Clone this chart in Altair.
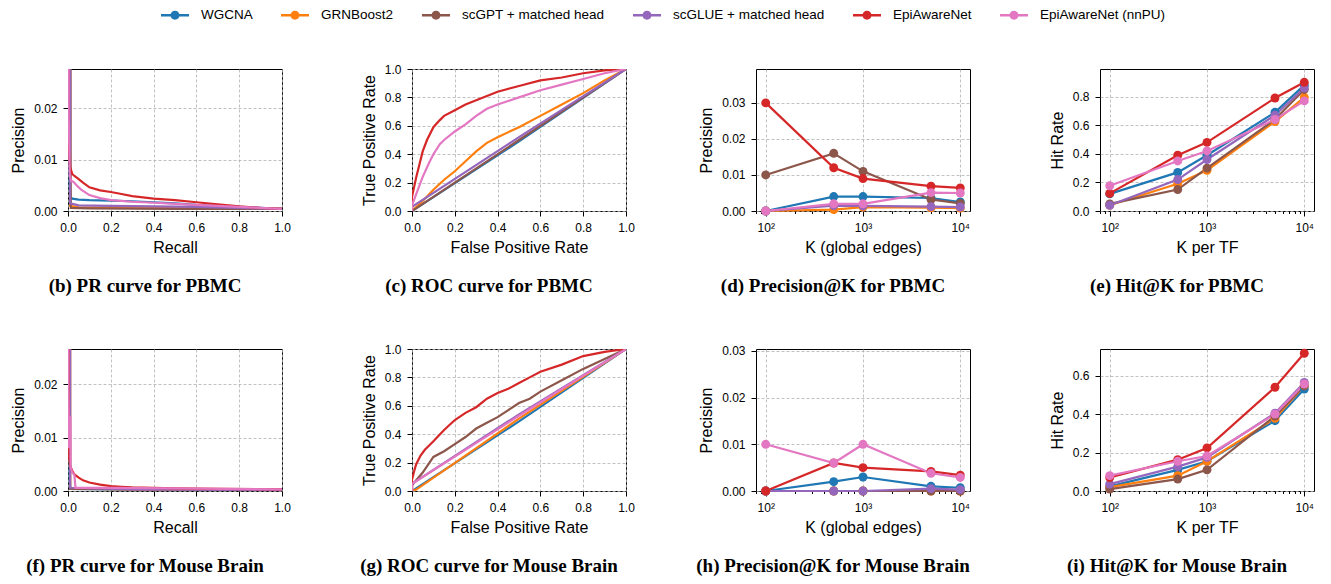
import altair as alt
import pandas as pd

SERIES = ["WGCNA", "GRNBoost2", "scGPT + matched head", "scGLUE + matched head",
          "EpiAwareNet", "EpiAwareNet (nnPU)"]
COLORS = ["#1f77b4", "#ff7f0e", "#8c564b", "#9467bd", "#d62728", "#e377c2"]
K_VALUES = [100, 500, 1000, 5000, 10000]

CAPTIONS = ["(b) PR curve for PBMC", "(c) ROC curve for PBMC",
            "(d) Precision@K for PBMC", "(e) Hit@K for PBMC",
            "(f) PR curve for Mouse Brain", "(g) ROC curve for Mouse Brain",
            "(h) Precision@K for Mouse Brain", "(i) Hit@K for Mouse Brain"]

UNIT_TICKS = [0.0, 0.2, 0.4, 0.6, 0.8, 1.0]
PREC_TICKS = [0.0, 0.01, 0.02, 0.03]
LOG_TICKS = [80, 90, 100, 200, 300, 400, 500, 600, 700, 800, 900,
             1000, 2000, 3000, 4000, 5000, 6000, 7000, 8000, 9000, 10000]

# ---- PR curve, PBMC ----
PR_PBMC_RECALL = {
    "WGCNA": [0, 0.008, 0.012, 0.02, 0.05, 0.1, 0.2, 0.3, 0.4, 0.5, 0.6, 0.7, 0.8, 0.9, 1.0],
    "GRNBoost2": [0, 0.01, 0.05, 0.3, 0.6, 1.0],
    "scGPT + matched head": [0, 0.012, 0.013, 0.1, 0.5, 1.0],
    "scGLUE + matched head": [0, 0.01, 0.05, 0.2, 0.4, 0.6, 0.8, 1.0],
    "EpiAwareNet": [0, 0.002, 0.005, 0.01, 0.02, 0.03, 0.05, 0.07, 0.1, 0.15, 0.2, 0.25,
                    0.3, 0.4, 0.5, 0.6, 0.7, 0.8, 0.9, 1.0],
    "EpiAwareNet (nnPU)": [0, 0.003, 0.008, 0.015, 0.025, 0.04, 0.06, 0.1, 0.15, 0.2, 0.3,
                           0.4, 0.5, 0.6, 0.7, 0.8, 0.9, 1.0],
}
PR_PBMC_PRECISION = {
    "WGCNA": [1.0, 0.0045, 0.0027, 0.0024, 0.0022, 0.0021, 0.0020, 0.0019, 0.0017, 0.0015,
              0.0012, 0.0010, 0.0008, 0.0006, 0.0004],
    "GRNBoost2": [1.0, 0.001, 0.0007, 0.0006, 0.0005, 0.0004],
    "scGPT + matched head": [1.0, 0.012, 0.0006, 0.0005, 0.0004, 0.0004],
    "scGLUE + matched head": [1.0, 0.0015, 0.0011, 0.001, 0.0009, 0.0008, 0.0006, 0.0004],
    "EpiAwareNet": [1.0, 0.02, 0.011, 0.0085, 0.0072, 0.0068, 0.0062, 0.0055, 0.0046, 0.0040,
                    0.0037, 0.0033, 0.0029, 0.0024, 0.0021, 0.0017, 0.0013, 0.0009, 0.0006, 0.0004],
    "EpiAwareNet (nnPU)": [1.0, 0.02, 0.007, 0.0058, 0.0057, 0.005, 0.0042, 0.0031, 0.0025,
                           0.0021, 0.0018, 0.0016, 0.0014, 0.0012, 0.0010, 0.0008, 0.0006, 0.0004],
}

# ---- PR curve, Mouse Brain ----
PR_MOUSE_RECALL = {
    "WGCNA": [0, 0.008, 0.01, 0.2, 1.0],
    "GRNBoost2": [0, 0.01, 0.3, 1.0],
    "scGPT + matched head": [0, 0.01, 0.3, 1.0],
    "scGLUE + matched head": [0, 0.01, 0.3, 1.0],
    "EpiAwareNet": [0, 0.003, 0.006, 0.01, 0.02, 0.03, 0.05, 0.07, 0.1, 0.15, 0.2, 0.25,
                    0.3, 0.5, 0.7, 1.0],
    "EpiAwareNet (nnPU)": [0, 0.002, 0.005, 0.011, 0.012, 0.02, 0.03, 0.035, 0.2, 0.5, 1.0],
}
PR_MOUSE_PRECISION = {
    "WGCNA": [1.0, 0.0026, 0.0004, 0.0003, 0.0002],
    "GRNBoost2": [1.0, 0.0005, 0.0003, 0.0002],
    "scGPT + matched head": [1.0, 0.0004, 0.0003, 0.0002],
    "scGLUE + matched head": [1.0, 0.0006, 0.0003, 0.0002],
    "EpiAwareNet": [1.0, 0.02, 0.006, 0.0047, 0.0038, 0.0031, 0.0025, 0.0020, 0.0016, 0.0012,
                    0.0009, 0.0008, 0.0007, 0.0005, 0.0004, 0.0003],
    "EpiAwareNet (nnPU)": [1.0, 0.02, 0.008, 0.014, 0.0045, 0.0035, 0.003, 0.0006, 0.0006,
                           0.0005, 0.0003],
}

# ---- ROC curve, PBMC ----
ROC_PBMC_FPR = {
    "WGCNA": [0, 0.5, 1.0],
    "GRNBoost2": [0, 0.05, 0.1, 0.15, 0.2, 0.25, 0.3, 0.35, 0.4, 0.5, 0.6, 0.7, 0.8, 0.9, 1.0],
    "scGPT + matched head": [0, 0.5, 1.0],
    "scGLUE + matched head": [0, 0, 0.5, 1.0],
    "EpiAwareNet": [0, 0, 0.01, 0.02, 0.03, 0.05, 0.07, 0.1, 0.13, 0.15, 0.2, 0.25, 0.3, 0.35,
                    0.4, 0.5, 0.6, 0.7, 0.8, 0.9, 1.0],
    "EpiAwareNet (nnPU)": [0, 0, 0.02, 0.05, 0.08, 0.1, 0.13, 0.15, 0.2, 0.25, 0.3, 0.35, 0.4,
                           0.5, 0.6, 0.7, 0.8, 0.9, 1.0],
}
ROC_PBMC_TPR = {
    "WGCNA": [0, 0.49, 1.0],
    "GRNBoost2": [0, 0.07, 0.15, 0.22, 0.28, 0.35, 0.42, 0.48, 0.52, 0.59, 0.67, 0.75, 0.83,
                  0.92, 1.0],
    "scGPT + matched head": [0, 0.5, 1.0],
    "scGLUE + matched head": [0, 0.03, 0.52, 1.0],
    "EpiAwareNet": [0, 0.1, 0.17, 0.24, 0.3, 0.42, 0.5, 0.59, 0.64, 0.67, 0.71, 0.75, 0.78,
                    0.81, 0.84, 0.88, 0.92, 0.94, 0.97, 0.99, 1.0],
    "EpiAwareNet (nnPU)": [0, 0.04, 0.12, 0.24, 0.34, 0.40, 0.47, 0.50, 0.56, 0.61, 0.67,
                           0.72, 0.75, 0.80, 0.85, 0.89, 0.93, 0.97, 1.0],
}

# ---- ROC curve, Mouse Brain ----
ROC_MOUSE_FPR = {
    "WGCNA": [0, 0.5, 1.0],
    "GRNBoost2": [0, 0.02, 0.5, 1.0],
    "scGPT + matched head": [0, 0, 0.05, 0.1, 0.15, 0.2, 0.25, 0.3, 0.35, 0.4, 0.45, 0.5, 0.55,
                             0.6, 0.7, 0.8, 0.9, 1.0],
    "scGLUE + matched head": [0, 0, 0.5, 1.0],
    "EpiAwareNet": [0, 0, 0.01, 0.02, 0.04, 0.06, 0.08, 0.1, 0.15, 0.2, 0.25, 0.3, 0.35, 0.4,
                    0.45, 0.5, 0.55, 0.6, 0.7, 0.8, 0.9, 1.0],
    "EpiAwareNet (nnPU)": [0, 0, 0.5, 1.0],
}
ROC_MOUSE_TPR = {
    "WGCNA": [0, 0.49, 1.0],
    "GRNBoost2": [0, 0.01, 0.51, 1.0],
    "scGPT + matched head": [0, 0.04, 0.13, 0.24, 0.28, 0.33, 0.38, 0.44, 0.48, 0.52, 0.57,
                             0.62, 0.65, 0.70, 0.78, 0.86, 0.93, 1.0],
    "scGLUE + matched head": [0, 0.05, 0.54, 1.0],
    "EpiAwareNet": [0, 0.08, 0.14, 0.19, 0.25, 0.29, 0.32, 0.35, 0.43, 0.5, 0.55, 0.59, 0.65,
                    0.69, 0.72, 0.76, 0.8, 0.84, 0.89, 0.95, 0.98, 1.0],
    "EpiAwareNet (nnPU)": [0, 0.05, 0.53, 1.0],
}

# ---- Precision@K ----
PREC_PBMC = {
    "WGCNA": [0.0, 0.004, 0.004, 0.0036, 0.0025],
    "GRNBoost2": [0.0, 0.0004, 0.0011, 0.0009, 0.0008],
    "scGPT + matched head": [0.010, 0.016, 0.011, 0.0032, 0.0021],
    "scGLUE + matched head": [0.0, 0.0015, 0.0014, 0.0012, 0.0011],
    "EpiAwareNet": [0.030, 0.012, 0.009, 0.0069, 0.0064],
    "EpiAwareNet (nnPU)": [0.0, 0.002, 0.002, 0.0051, 0.0050],
}
PREC_MOUSE = {
    "WGCNA": [0.0, 0.002, 0.003, 0.001, 0.0007],
    "GRNBoost2": [0.0, 0.0, 0.0, 0.0, 0.0],
    "scGPT + matched head": [0.0, 0.0, 0.0, 0.0, 0.0],
    "scGLUE + matched head": [0.0, 0.0, 0.0, 0.0005, 0.0003],
    "EpiAwareNet": [0.0, 0.006, 0.005, 0.0042, 0.0034],
    "EpiAwareNet (nnPU)": [0.010, 0.006, 0.010, 0.0038, 0.0029],
}

# ---- Hit@K ----
HIT_PBMC = {
    "WGCNA": [0.12, 0.27, 0.39, 0.69, 0.88],
    "GRNBoost2": [0.04, 0.19, 0.285, 0.625, 0.795],
    "scGPT + matched head": [0.05, 0.15, 0.30, 0.64, 0.85],
    "scGLUE + matched head": [0.04, 0.22, 0.36, 0.67, 0.86],
    "EpiAwareNet": [0.123, 0.39, 0.48, 0.79, 0.90],
    "EpiAwareNet (nnPU)": [0.176, 0.35, 0.42, 0.64, 0.77],
}
HIT_MOUSE = {
    "WGCNA": [0.024, 0.11, 0.155, 0.366, 0.531],
    "GRNBoost2": [0.02, 0.08, 0.155, 0.378, 0.548],
    "scGPT + matched head": [0.01, 0.062, 0.11, 0.39, 0.548],
    "scGLUE + matched head": [0.036, 0.127, 0.175, 0.405, 0.565],
    "EpiAwareNet": [0.07, 0.163, 0.224, 0.54, 0.717],
    "EpiAwareNet (nnPU)": [0.08, 0.155, 0.182, 0.40, 0.557],
}

FONT = "Liberation Sans"
W, H = 214, 142

LEGEND_SYMBOL = ("M-2,-0.18L2,-0.18L2,0.18L-2,0.18Z "
                 "M0.64,0A0.64,0.64,0,1,1,-0.64,0A0.64,0.64,0,1,1,0.64,0Z")

# stroke scale lists the same mapping in reverse order so that its (disabled)
# legend is not merged with the fill legend
stroke_scale = alt.Scale(domain=SERIES[::-1], range=COLORS[::-1])
fill_scale = alt.Scale(domain=SERIES, range=COLORS)

LEGEND = alt.Legend(title=None, orient="none", legendX=100, legendY=-61,
                    direction="horizontal", symbolType=LEGEND_SYMBOL, symbolSize=196,
                    symbolStrokeWidth=0, symbolOpacity=1, labelFont=FONT,
                    labelFontSize=13.5, labelColor="black", labelOffset=19,
                    columnPadding=28, labelLimit=400)

MAJOR = "indexof([100, 1000, 10000], datum.value) >= 0"


def caption(text):
    return alt.TitleParams(text=text, orient="bottom", anchor="middle", frame="group",
                           dx=-30, offset=22, font="Liberation Serif", fontSize=19,
                           fontWeight="bold", color="black")


def curve_frame(xs, ys):
    rows = []
    for s in SERIES:
        for i, (a, b) in enumerate(zip(xs[s], ys[s])):
            rows.append({"series": s, "x": a, "y": b, "i": i})
    return pd.DataFrame(rows)


def k_frame(vals):
    rows = []
    for s in SERIES:
        for k, v in zip(K_VALUES, vals[s]):
            rows.append({"series": s, "k": k, "v": v})
    return pd.DataFrame(rows)


def curve_panel(xs, ys, xtitle, ytitle, ydomain, yticks, yfmt, cap):
    df = curve_frame(xs, ys)
    return alt.Chart(df).mark_line(strokeWidth=2.2, clip=True).encode(
        x=alt.X("x:Q", scale=alt.Scale(domain=[0, 1], nice=False, zero=False),
                axis=alt.Axis(title=xtitle, values=UNIT_TICKS, format=".1f")),
        y=alt.Y("y:Q", scale=alt.Scale(domain=ydomain, nice=False, zero=False),
                axis=alt.Axis(title=ytitle, values=yticks, format=yfmt)),
        stroke=alt.Stroke("series:N", scale=stroke_scale, legend=None),
        order=alt.Order("i:Q"),
    ).properties(width=W, height=H, title=caption(cap))


def k_panel(vals, xtitle, ytitle, ydomain, yticks, yfmt, cap):
    df = k_frame(vals)
    x = alt.X("k:Q", scale=alt.Scale(type="log", domain=[79.43, 12589], nice=False),
              axis=alt.Axis(title=xtitle, values=LOG_TICKS,
                            labelExpr="datum.value == 100 ? '10²' : datum.value == 1000 ? '10³' : datum.value == 10000 ? '10⁴' : ''",
                            tickSize={"condition": {"test": MAJOR, "value": 5}, "value": 2.5},
                            gridOpacity={"condition": {"test": MAJOR, "value": 1}, "value": 0}))
    y = alt.Y("v:Q", scale=alt.Scale(domain=ydomain, nice=False, zero=False),
              axis=alt.Axis(title=ytitle, values=yticks, format=yfmt))
    base = alt.Chart(df)
    lines = base.mark_line(strokeWidth=2.2).encode(
        x=x, y=y, stroke=alt.Stroke("series:N", scale=stroke_scale, legend=None))
    pts = base.mark_point(filled=True, size=80, opacity=1, clip=False).encode(
        x=x, y=y, fill=alt.Fill("series:N", scale=fill_scale, legend=LEGEND))
    return alt.layer(lines, pts).properties(width=W, height=H, title=caption(cap))


b = curve_panel(PR_PBMC_RECALL, PR_PBMC_PRECISION, "Recall", "Precision",
                [0, 0.0276], [0, 0.01, 0.02], ".2f", CAPTIONS[0])
c = curve_panel(ROC_PBMC_FPR, ROC_PBMC_TPR, "False Positive Rate", "True Positive Rate",
                [0, 1], UNIT_TICKS, ".1f", CAPTIONS[1])
d = k_panel(PREC_PBMC, "K (global edges)", "Precision", [0, 0.0394], PREC_TICKS, ".2f",
            CAPTIONS[2])
e = k_panel(HIT_PBMC, "K per TF", "Hit Rate", [0, 0.993], [0, 0.2, 0.4, 0.6, 0.8], ".1f",
            CAPTIONS[3])
f = curve_panel(PR_MOUSE_RECALL, PR_MOUSE_PRECISION, "Recall", "Precision",
                [0, 0.0266], [0, 0.01, 0.02], ".2f", CAPTIONS[4])
g = curve_panel(ROC_MOUSE_FPR, ROC_MOUSE_TPR, "False Positive Rate", "True Positive Rate",
                [0, 1], UNIT_TICKS, ".1f", CAPTIONS[5])
h = k_panel(PREC_MOUSE, "K (global edges)", "Precision", [0, 0.0304], PREC_TICKS, ".2f",
            CAPTIONS[6])
i = k_panel(HIT_MOUSE, "K per TF", "Hit Rate", [0, 0.739], [0, 0.2, 0.4, 0.6], ".1f",
            CAPTIONS[7])

chart = alt.concat(
    b, c, d, e, f, g, h, i, columns=4,
    spacing={"row": 138, "column": 130}, bounds="flush"
).properties(
    padding={"left": 2, "top": 0, "right": 0, "bottom": 0}
).configure_view(
    stroke="black", strokeWidth=1
).configure_axis(
    labelFont=FONT, titleFont=FONT, labelFontSize=12, titleFontSize=16,
    titleFontWeight="normal", labelColor="black", titleColor="black",
    tickColor="black", tickSize=5, tickWidth=1, domain=False,
    gridColor="#b0b0b0", gridDash=[3, 2], gridWidth=0.8,
    labelFlush=False, labelOverlap=False
).configure_axisX(
    labelPadding=6, titlePadding=6
).configure_axisY(
    labelPadding=6, titlePadding=7
)

chart.save("out.html", embed_options={"renderer": "svg", "actions": False})
